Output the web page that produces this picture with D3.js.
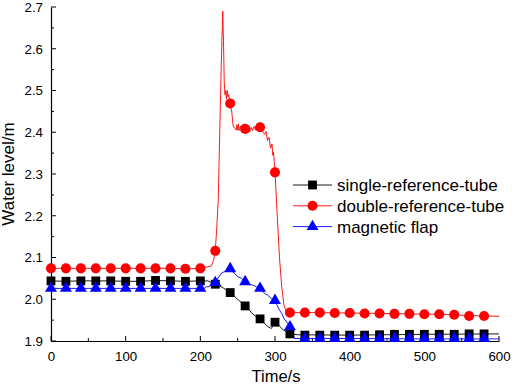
<!DOCTYPE html>
<html><head><meta charset="utf-8">
<script src="https://cdn.jsdelivr.net/npm/d3@7"></script>
<style>body{margin:0;background:#fff}svg{display:block}text{font-family:Arial,"Liberation Sans",sans-serif}</style>
</head><body><svg id="c" width="512" height="387"></svg>
<script>
// ---- data ----
const seriesNames = ["single-reference-tube","double-reference-tube","magnetic flap"];
const markerTimes = d3.range(0, 600, 20);
const singleMarkers = [2.044,2.043,2.044,2.044,2.044,2.043,2.043,2.045,2.044,2.043,2.044,
  2.036,2.016,1.984,1.953,1.945,1.917,1.914,1.914,1.914,1.914,1.914,1.915,1.916,1.916,1.916,1.916,1.916,1.917,1.917];
const doubleMarkers = [2.074,2.074,2.074,2.074,2.074,2.074,2.074,2.074,2.074,2.073,2.074,
  2.116,2.469,2.408,2.412,2.304,1.968,1.968,1.968,1.967,1.967,1.966,1.966,1.965,1.965,1.964,1.964,1.963,1.960,1.960];
const flapMarkers = [2.026,2.026,2.026,2.026,2.026,2.026,2.026,2.026,2.026,2.026,2.026,
  2.040,2.073,2.042,2.026,1.997,1.934,1.906,1.906,1.906,1.906,1.906,1.906,1.906,1.906,1.906,1.906,1.906,1.906,1.906];

const singleLine = [[0,2.044],[20,2.043],[40,2.044],[60,2.044],[80,2.044],[100,2.043],[120,2.043],[140,2.045],[160,2.044],[180,2.043],[200,2.044],
  [210,2.044],[215,2.040],[220,2.036],[225,2.032],[230,2.028],[235,2.022],[240,2.016],[245,2.008],[250,2.000],[255,1.992],[260,1.984],
  [265,1.975],[270,1.965],[275,1.958],[280,1.953],[285,1.944],[290,1.935],[295,1.930],[297,1.935],[300,1.945],[305,1.938],[310,1.928],
  [315,1.922],[320,1.917],[330,1.915],[400,1.914],[450,1.915],[500,1.916],[600,1.917]];
const doubleLine = [[0,2.074],[20,2.074],[40,2.074],[60,2.074],[80,2.074],[100,2.074],[120,2.074],[140,2.074],[160,2.074],[180,2.073],[200,2.074],
  [205,2.076],[210,2.078],[215,2.080],[218,2.095],[220,2.116],[222,2.17],[224,2.24],[226,2.40],[228,2.56],[230,2.69],[231,2.62],[232,2.52],[233,2.49],
  [234,2.50],[235,2.48],[236,2.50],[237,2.485],[238,2.49],[240,2.469],[242,2.45],[244,2.415],[246,2.41],[248,2.405],[249,2.418],[250,2.405],
  [251,2.42],[252,2.404],[254,2.415],[256,2.405],[258,2.412],[260,2.408],[262,2.400],[264,2.407],[266,2.401],[268,2.412],[270,2.404],[272,2.414],
  [274,2.405],[276,2.412],[278,2.416],[280,2.412],[282,2.410],[284,2.400],[286,2.395],[288,2.402],[290,2.380],[292,2.388],[294,2.362],[296,2.372],
  [297,2.345],[298,2.352],[300,2.304],[303,2.20],[306,2.10],[309,2.03],[312,1.985],[315,1.972],[320,1.968],[360,1.968],[400,1.967],[440,1.966],
  [480,1.965],[520,1.964],[560,1.961],[600,1.959]];
const flapLine = [[0,2.026],[50,2.026],[100,2.026],[150,2.026],[200,2.026],[205,2.026],[208,2.030],[212,2.030],[215,2.036],[220,2.040],[222,2.046],
  [225,2.054],[228,2.062],[232,2.066],[236,2.070],[240,2.073],[243,2.066],[246,2.062],[250,2.054],[255,2.050],[260,2.042],[265,2.036],[270,2.034],
  [275,2.030],[280,2.026],[283,2.020],[286,2.014],[290,2.010],[295,2.002],[300,1.997],[303,1.985],[306,1.974],[309,1.966],[312,1.954],[316,1.945],
  [320,1.934],[323,1.920],[326,1.906],[400,1.906],[500,1.905],[600,1.905]];
const xTicks = [0,100,200,300,400,500,600];
const yTicks = [1.9,2.0,2.1,2.2,2.3,2.4,2.5,2.6,2.7];

// ---- drawing ----
const svg = d3.select("#c");
const x = d3.scaleLinear().domain([0,600]).range([51,499]);
const y = d3.scaleLinear().domain([1.9,2.7]).range([341,7]);

const series = [
  {name:seriesNames[0], line:singleLine, marks:singleMarkers, color:"#000000", shape:d3.symbolSquare, size:78},
  {name:seriesNames[1], line:doubleLine, marks:doubleMarkers, color:"#ff0000", shape:d3.symbolCircle, size:80},
  {name:seriesNames[2], line:flapLine, marks:flapMarkers, color:"#0000ff", shape:d3.symbolTriangle, size:62}
];
const lineGen = d3.line().x(d=>x(d[0])).y(d=>y(d[1]));

// axes
const gx = svg.append("g").attr("transform",`translate(0,${y(1.9)})`)
  .call(d3.axisBottom(x).tickValues(xTicks).tickSize(0).tickPadding(11).tickFormat(d3.format("d")));
gx.select(".domain").attr("stroke","#000").attr("stroke-width",1.2);
gx.selectAll("text").attr("font-size",13.3).attr("fill","#000");
const gxT = svg.append("g").attr("transform",`translate(0,${y(1.9)})`);
gxT.selectAll("line.maj").data(xTicks).join("line").attr("x1",d=>x(d)).attr("x2",d=>x(d)).attr("y1",0).attr("y2",-5).attr("stroke","#000");
gxT.selectAll("line.min").data(d3.range(50,600,100)).join("line").attr("x1",d=>x(d)).attr("x2",d=>x(d)).attr("y1",0).attr("y2",-3).attr("stroke","#000");

const gy = svg.append("g").attr("transform",`translate(${x(0)},0)`)
  .call(d3.axisLeft(y).tickValues(yTicks).tickSize(0).tickPadding(8).tickFormat(d3.format(".1f")));
gy.select(".domain").attr("stroke","#000").attr("stroke-width",1.2);
gy.selectAll("text").attr("font-size",13.3).attr("fill","#000");
const gyT = svg.append("g").attr("transform",`translate(${x(0)},0)`);
gyT.selectAll("line.maj").data(yTicks).join("line").attr("x1",0).attr("x2",5).attr("y1",d=>y(d)).attr("y2",d=>y(d)).attr("stroke","#000");
gyT.selectAll("line.min").data(d3.range(1.95,2.7,0.1)).join("line").attr("x1",0).attr("x2",3).attr("y1",d=>y(d)).attr("y2",d=>y(d)).attr("stroke","#000");

// titles
svg.append("text").attr("x",276).attr("y",382).attr("text-anchor","middle").attr("font-size",16.5).text("Time/s");
svg.append("text").attr("transform",`translate(14,${(7+341)/2}) rotate(-90)`).attr("text-anchor","middle").attr("font-size",17).text("Water level/m");

// series lines and markers
series.forEach(s=>{
  svg.append("path").datum(s.line).attr("d",lineGen).attr("fill","none").attr("stroke",s.color).attr("stroke-width",0.9);
});
series.forEach(s=>{
  svg.append("g").selectAll("path").data(markerTimes.map((t,i)=>[t,s.marks[i]])).join("path")
    .attr("transform",d=>`translate(${x(d[0])},${y(d[1])})`)
    .attr("d",d3.symbol().type(s.shape).size(s.size)).attr("fill",s.color);
});

// legend
const leg = svg.append("g");
series.forEach((s,i)=>{
  const cy = 185 + i*20.8;
  leg.append("line").attr("x1",293).attr("x2",332).attr("y1",cy).attr("y2",cy).attr("stroke",s.color).attr("stroke-width",0.9);
  leg.append("path").attr("transform",`translate(312.5,${cy})`).attr("d",d3.symbol().type(s.shape).size(s.size)).attr("fill",s.color);
  leg.append("text").attr("x",337).attr("y",cy+6).attr("font-size",17).text(s.name);
});
</script></body></html>
